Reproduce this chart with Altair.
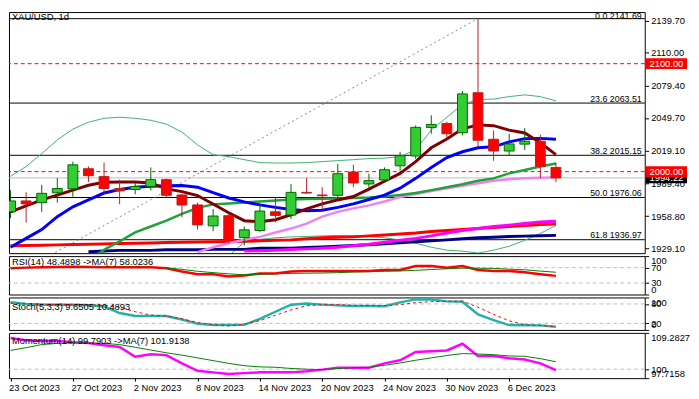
import altair as alt
import pandas as pd

# ---------------- data ----------------
date_labels = ["23 Oct 2023", "27 Oct 2023", "2 Nov 2023", "8 Nov 2023", "14 Nov 2023",
               "20 Nov 2023", "24 Nov 2023", "30 Nov 2023", "6 Dec 2023"]
date_bars = [0, 4, 8, 12, 16, 20, 24, 28, 32]

open_ = [1962.8, 1972.9, 1971.3, 1980.4, 1984.1, 2002.7, 1995.4, 1984.4, 1983.5, 1986.3,
         1992.6, 1978.4, 1969.2, 1949.8, 1959.2, 1938.9, 1945.5, 1962.8, 1959.8, 1980.8,
         1978.4, 1978.1, 1999.6, 1988.6, 1992.3, 2005.4, 2014.5, 2041.0, 2044.6, 2036.0,
         2073.1, 2030.0, 2019.1, 2025.5, 2028.2, 2003.9]
high = [1982.9, 1981.0, 1987.7, 1994.1, 2009.3, 2004.8, 2008.4, 1992.6, 1989.5, 2003.9,
        1993.5, 1979.3, 1971.3, 1965.3, 1961.3, 1949.2, 1970.8, 1975.9, 1988.4, 1994.1,
        1985.6, 2007.2, 2006.3, 1998.1, 2003.9, 2018.4, 2042.8, 2052.2, 2046.4, 2074.7,
        2141.69, 2038.2, 2035.1, 2040.3, 2034.2, 2008.4]
low = [1957.0, 1952.8, 1962.8, 1971.3, 1976.8, 1990.4, 1979.5, 1969.8, 1979.0, 1982.6,
       1975.9, 1957.6, 1946.4, 1944.9, 1933.4, 1931.6, 1944.0, 1953.1, 1956.2, 1979.5,
       1965.0, 1975.9, 1985.6, 1985.0, 1991.7, 2000.8, 2011.8, 2035.1, 2030.6, 2033.7,
       2023.0, 2010.0, 2014.8, 2020.0, 1994.1, 1990.2]
close = [1972.9, 1970.1, 1979.9, 1984.4, 2006.3, 1996.3, 1984.4, 1982.2, 1986.3, 1992.6,
         1978.1, 1969.1, 1950.7, 1958.9, 1937.0, 1946.1, 1963.5, 1959.5, 1980.8, 1980.2,
         1977.7, 1998.1, 1989.5, 1991.7, 2001.8, 2014.8, 2041.0, 2043.7, 2035.1, 2072.0,
         2029.1, 2019.1, 2025.7, 2028.2, 2004.8, 1994.22]

# moving averages / bands (value lists, start bar index)
ma_maroon = [1962.8, 1968.3, 1973.8, 1978.3, 1982.9, 1987.4, 1990.2, 1990.5, 1990.5, 1989.5,
             1984.0, 1981.5, 1977.9, 1970.1, 1961.9, 1954.6, 1953.7, 1955.5, 1960.1, 1965.6,
             1970.1, 1973.8, 1977.0, 1983.8, 1991.1, 1998.4, 2009.3, 2022.1, 2030.3, 2039.7,
             2043.3, 2042.6, 2038.5, 2035.8, 2026.7, 2015.7]
ma_blue = [1930.0, 1938.2, 1946.4, 1958.3, 1967.4, 1973.8, 1980.2, 1983.5, 1985.6, 1986.5,
           1987.0, 1987.2, 1985.6, 1980.6, 1975.6, 1972.0, 1969.2, 1966.9, 1964.9, 1963.8,
           1964.2, 1966.9, 1970.1, 1974.2, 1978.3, 1984.7, 1993.8, 2003.9, 2013.0, 2018.4,
           2022.1, 2023.0, 2027.6, 2030.6, 2030.8, 2030.0]
ma_green_start = 5
ma_green = [1917.0, 1927.7, 1935.5, 1943.7, 1949.2, 1954.6, 1961.0, 1966.5, 1969.7, 1970.6,
            1971.5, 1972.4, 1973.3, 1974.2, 1974.7, 1974.9, 1975.1, 1975.6, 1976.0, 1976.9,
            1978.3, 1980.2, 1982.9, 1985.6, 1988.4, 1991.6, 1993.8, 1998.4, 2001.6, 2004.8,
            2007.5]
ma_violet_start = 12
ma_violet = [1925.5, 1930.0, 1933.7, 1936.9, 1939.6, 1943.7, 1947.3, 1951.9, 1958.3, 1962.8,
             1966.0, 1968.8, 1972.4, 1976.5, 1979.2, 1982.0, 1984.7, 1987.0, 1989.3, 1991.5,
             1992.9, 1993.8, 1994.3, 1994.7]
ma_red = [1931.4, 1931.6, 1931.8, 1932.2, 1932.5, 1932.8, 1933.1, 1933.4, 1933.7, 1934.0,
          1934.3, 1934.6, 1934.9, 1935.1, 1935.3, 1935.5, 1935.9, 1936.4, 1936.8, 1937.8,
          1938.7, 1939.2, 1939.6, 1940.5, 1941.4, 1942.3, 1943.2, 1944.6, 1945.5, 1946.4,
          1947.3, 1948.2, 1949.2, 1950.1, 1951.0, 1951.6]
ma_navy_start = 5
ma_navy = [1925.9, 1926.6, 1927.1, 1927.1, 1927.1, 1927.7, 1927.7, 1927.7, 1928.0, 1928.0,
           1928.0, 1929.1, 1929.1, 1929.1, 1929.7, 1930.2, 1930.9, 1931.6, 1932.3, 1933.2,
           1934.1, 1935.0, 1935.9, 1936.8, 1937.8, 1938.7, 1939.3, 1939.9, 1940.3, 1940.7,
           1941.0]
ma_magenta_start = 15
ma_magenta = [1926.4, 1926.8, 1927.3, 1927.9, 1928.5, 1929.1, 1930.0, 1931.4, 1932.8, 1934.6,
              1936.4, 1938.2, 1940.5, 1943.2, 1945.5, 1947.3, 1949.2, 1950.5, 1951.9, 1953.3,
              1954.0]
bb_upper = [1995.7, 2004.8, 2016.6, 2029.4, 2039.4, 2045.8, 2049.4, 2050.4, 2049.4, 2047.6,
            2044.0, 2036.7, 2024.8, 2015.7, 2013.9, 2011.1, 2008.4, 2008.0, 2008.0, 2008.4,
            2009.3, 2010.2, 2011.1, 2012.1, 2012.5, 2013.9, 2020.3, 2038.5, 2050.4, 2062.2,
            2066.8, 2067.2, 2069.5, 2071.1, 2069.5, 2065.6]
bb_lower_start = 14
bb_lower = [1922.0, 1934.6, 1937.3, 1938.7, 1939.6, 1940.0, 1940.5, 1940.9, 1940.9, 1940.0,
            1938.7, 1936.8, 1933.7, 1930.0, 1927.3, 1926.4, 1924.6, 1927.3, 1930.9, 1936.4,
            1942.8, 1950.1]

fib_names = ["0.0", "23.6", "38.2", "50.0", "61.8"]
fib_levels = [2141.69, 2063.51, 2015.15, 1976.06, 1936.97]
fib_trend_i = [-11.5, 30]
fib_trend_p = [1810.4, 2141.69]
red_levels = [2100.00, 2000.00]
last_price = 1994.22
price_ticks = [1929.10, 1958.80, 1989.40, 2019.10, 2049.70, 2079.40, 2110.00, 2139.70]

rsi = [68.4, 70.0, 71.0, 71.7, 72.5, 71.7, 71.0, 71.0, 71.0, 71.0,
       68.3, 60.0, 53.0, 53.0, 47.0, 49.6, 54.7, 54.7, 60.0, 61.5,
       61.5, 61.5, 61.5, 61.5, 63.8, 63.8, 74.3, 74.3, 70.0, 74.3,
       63.8, 61.5, 61.5, 58.0, 53.0, 48.49]
rsi_ma = [70.0, 70.0, 70.2, 70.4, 70.6, 70.8, 71.0, 71.0, 71.0, 70.8,
          69.5, 65.5, 60.5, 57.0, 53.8, 51.5, 52.5, 54.0, 55.0, 55.5,
          56.0, 57.0, 58.5, 59.5, 60.5, 61.5, 63.0, 65.0, 67.0, 68.5,
          68.5, 68.0, 66.0, 64.5, 61.0, 58.02]
stoch_k = [85.5, 80.0, 77.8, 77.8, 77.8, 76.0, 72.4, 52.0, 43.0, 43.0,
           42.9, 32.0, 19.0, 15.0, 15.0, 15.6, 34.0, 56.0, 77.8, 81.1,
           78.0, 75.6, 74.0, 74.0, 73.0, 85.0, 94.0, 94.0, 88.0, 87.0,
           48.0, 30.0, 15.0, 14.5, 14.0, 9.65]
stoch_d = [82.0, 81.0, 79.0, 78.5, 78.0, 77.5, 76.0, 70.0, 56.0, 46.0,
           42.5, 34.0, 23.0, 16.5, 12.5, 18.0, 28.7, 45.0, 61.5, 74.5,
           77.8, 77.8, 75.6, 75.6, 75.0, 78.0, 84.0, 87.0, 88.7, 88.7,
           70.0, 48.0, 28.0, 16.0, 13.0, 10.49]
mom = [108.0, 107.4, 107.2, 107.2, 106.9, 106.7, 106.1, 105.7, 103.2, 103.8,
       103.6, 101.5, 99.6, 99.2, 98.8, 99.0, 99.2, 99.2, 99.2, 99.5,
       99.9, 100.4, 100.4, 100.4, 101.5, 102.3, 104.4, 104.6, 104.8, 106.5,
       103.4, 103.4, 102.8, 102.5, 101.5, 99.79]
mom_ma = [104.8, 105.5, 106.3, 106.6, 106.7, 106.7, 106.6, 106.3, 105.6, 104.9,
          104.2, 103.6, 102.9, 102.2, 101.5, 100.9, 100.6, 100.5, 100.2, 100.0,
          99.9, 100.2, 100.4, 100.5, 101.0, 101.6, 102.3, 102.9, 103.5, 104.0,
          103.9, 103.7, 103.4, 103.3, 102.7, 101.91]

# ---------------- layout ----------------
W = 646
H_MAIN, H_RSI, H_STO, H_MOM = 245, 39, 33, 46
FONT = "Liberation Sans"
FS = 9.5
XSC = alt.Scale(domain=[-0.1, 40.7], nice=False, zero=False, padding=0)
PRICE_DOM = [1924.5, 2147.8]


def axis_r(values, flush=False, fmt=None, expr=None):
    kw = dict(orient="right", values=values, title=None, grid=False, domain=False,
              tickSize=4, tickColor="black", labelColor="black", labelFont=FONT,
              labelFontSize=FS, labelPadding=2, labelOverlap=False, labelFlush=flush)
    if fmt:
        kw["format"] = fmt
    if expr:
        kw["labelExpr"] = expr
    return alt.Axis(**kw)


def ym(field):
    return alt.Y(f"{field}:Q", scale=alt.Scale(domain=PRICE_DOM, nice=False, zero=False, padding=0),
                 axis=axis_r(price_ticks, fmt=".2f"))


xe = alt.X("i:Q", scale=XSC, axis=None)


def line_df(vals, start=0):
    return pd.DataFrame({"i": list(range(start, start + len(vals))), "p": vals})


def ma_line(vals, start, color, width):
    return alt.Chart(line_df(vals, start)).mark_line(
        color=color, strokeWidth=width, clip=True).encode(x=xe, y=ym("p"))


# candles
cdf = pd.DataFrame({"i": list(range(len(close))), "o": open_, "h": high, "l": low, "c": close})
cdf["dir"] = ["up" if c >= o else "down" for o, c in zip(open_, close)]
stroke_sc = alt.Scale(domain=["up", "down"], range=["#006400", "#B22222"])
wick = alt.Chart(cdf).mark_rule(strokeWidth=1, clip=True).encode(
    x=xe, y=ym("l"), y2=alt.Y2("h"), stroke=alt.Stroke("dir:N", scale=stroke_sc, legend=None))
body = alt.Chart(cdf).mark_bar(width=10, strokeWidth=1, clip=True).encode(
    x=xe, y=ym("o"), y2=alt.Y2("c"),
    fill=alt.Fill("dir:N", scale=alt.Scale(domain=["up", "down"], range=["#32CD32", "#FF0000"]), legend=None),
    stroke=alt.Stroke("dir:N", scale=stroke_sc, legend=None))

fdf = pd.DataFrame({"p": fib_levels, "t": [f"{n} {v:.2f}" for n, v in zip(fib_names, fib_levels)]})
fib_rule = alt.Chart(fdf).mark_rule(color="black", strokeWidth=1).encode(y=ym("p"))
fib_text_top = alt.Chart(fdf.iloc[:1]).mark_text(
    align="right", baseline="alphabetic", dy=0, font=FONT, fontSize=9, color="black").encode(
    x=alt.value(W - 3), y=ym("p"), text="t:N")
fib_text = alt.Chart(fdf.iloc[1:]).mark_text(
    align="right", baseline="alphabetic", dy=-1.5, font=FONT, fontSize=9, color="black").encode(
    x=alt.value(W - 3), y=ym("p"), text="t:N")

red_rule = alt.Chart(pd.DataFrame({"p": red_levels})).mark_rule(
    color="#FF0000", strokeDash=[4, 3], strokeWidth=1).encode(y=ym("p"))
grey_rule = alt.Chart(pd.DataFrame({"p": [last_price]})).mark_rule(
    color="#BDBDBD", strokeWidth=1).encode(y=ym("p"))
trend = alt.Chart(pd.DataFrame({"i": fib_trend_i, "p": fib_trend_p})).mark_line(
    color="#778899", strokeDash=[2, 3], strokeWidth=1, clip=True).encode(x=xe, y=ym("p"))

title = alt.Chart(pd.DataFrame({"t": ["XAU/USD, 1d"]})).mark_text(
    align="left", baseline="middle", font=FONT, fontSize=9.5, color="black").encode(
    x=alt.value(3), y=alt.value(5), text="t:N")

BOX = "M-1,-0.26L1,-0.26L1,0.26L-1,0.26Z"
blk = pd.DataFrame({"p": [last_price], "t": [f"{last_price:.2f}"]})
rdd = pd.DataFrame({"p": red_levels, "t": [f"{v:.2f}" for v in red_levels]})


def box_layers(df, col):
    b = alt.Chart(df).mark_point(shape=BOX, size=1764, filled=True, opacity=1, color=col,
                                 strokeWidth=0, clip=False).encode(x=alt.value(W + 22), y=ym("p"))
    t = alt.Chart(df).mark_text(color="white", font=FONT, fontSize=FS, clip=False).encode(
        x=alt.value(W + 22), y=ym("p"), text="t:N")
    return [b, t]


main = alt.layer(
    fib_rule, red_rule, grey_rule, trend,
    ma_line(bb_upper, 0, "#3CB371", 1),
    ma_line(bb_lower, bb_lower_start, "#3CB371", 1),
    ma_line(ma_navy, ma_navy_start, "#000080", 3),
    ma_line(ma_red, 0, "#FF0000", 3),
    ma_line(ma_magenta, ma_magenta_start, "#FF00FF", 3),
    ma_line(ma_violet, ma_violet_start, "#EE82EE", 2.5),
    ma_line(ma_green, ma_green_start, "#22A03A", 2.5),
    ma_line(ma_blue, 0, "#0000FF", 3),
    ma_line(ma_maroon, 0, "#800000", 3),
    wick, body, fib_text_top, fib_text, title,
    *box_layers(blk, "#000000"), *box_layers(rdd, "#FF0000"),
).properties(width=W, height=H_MAIN)


# ---------------- indicator panels ----------------
def panel(series, dom, ticks, levels, label, label_y, height, flush=True, expr=None, xaxis=None):
    ysc = alt.Scale(domain=dom, nice=False, zero=False, padding=0)
    yax = axis_r(ticks, flush=flush, expr=expr)
    xenc = alt.X("i:Q", scale=XSC, axis=xaxis)
    layers = [alt.Chart(pd.DataFrame({"v": levels})).mark_rule(
        color="#C0C0C0", strokeDash=[4, 3], strokeWidth=1).encode(y=alt.Y("v:Q", scale=ysc, axis=yax))]
    for vals, color, width, dash in series:
        kw = dict(color=color, strokeWidth=width, clip=True)
        if dash:
            kw["strokeDash"] = dash
        layers.append(alt.Chart(pd.DataFrame({"i": list(range(len(vals))), "v": vals})).mark_line(**kw).encode(
            x=xenc, y=alt.Y("v:Q", scale=ysc, axis=yax)))
    layers.append(alt.Chart(pd.DataFrame({"t": [label]})).mark_text(
        align="left", baseline="middle", font=FONT, fontSize=FS, color="black").encode(
        x=alt.value(3), y=alt.value(label_y), text="t:N"))
    return alt.layer(*layers).properties(width=W, height=height)


rsi_panel = panel([(rsi, "#FF0000", 2.5, None), (rsi_ma, "#008000", 1, None)],
                  [0, 100], [0, 30, 70, 100], [70, 30],
                  "RSI(14) 48.4898  ->MA(7) 58.0236", 6.5, H_RSI)
sto_panel = panel([(stoch_k, "#20B2AA", 2.5, None), (stoch_d, "#FF0000", 1, [3, 3])],
                  [0, 100], [0, 20, 80, 100], [80, 20],
                  "Stoch(5,3,3) 9.6505 10.4893", 9.3, H_STO)

lab_arr = "[" + ",".join(f"'{d}'" for d in date_labels) + "]"
xaxis = alt.Axis(values=date_bars, labelExpr=f"{lab_arr}[round(datum.value/4)]", labelAlign="left",
                 tickSize=3, tickColor="black", domain=False, grid=False, labelPadding=2,
                 labelFont=FONT, labelFontSize=FS, labelColor="black", labelFlush=False,
                 labelOverlap=False, title=None, labelOffset=-2)
mom_panel = panel([(mom, "#FF00FF", 2.5, None), (mom_ma, "#008000", 1, None)],
                  [97.7158, 109.2827], [97.7158, 100, 109.2827], [100],
                  "Momentum(14) 99.7903  ->MA(7) 101.9138", 8.3, H_MOM,
                  expr="datum.value == 100 ? '100' : format(datum.value, '.4f')", xaxis=xaxis)

chart = alt.vconcat(main, rsi_panel, sto_panel, mom_panel, spacing=3, bounds="flush").properties(
    padding={"left": 0, "right": 0, "top": 0, "bottom": 0}, background="white"
).configure_view(stroke="black", strokeWidth=1)

chart.save("out.html", embed_options={"renderer": "svg", "actions": False})
